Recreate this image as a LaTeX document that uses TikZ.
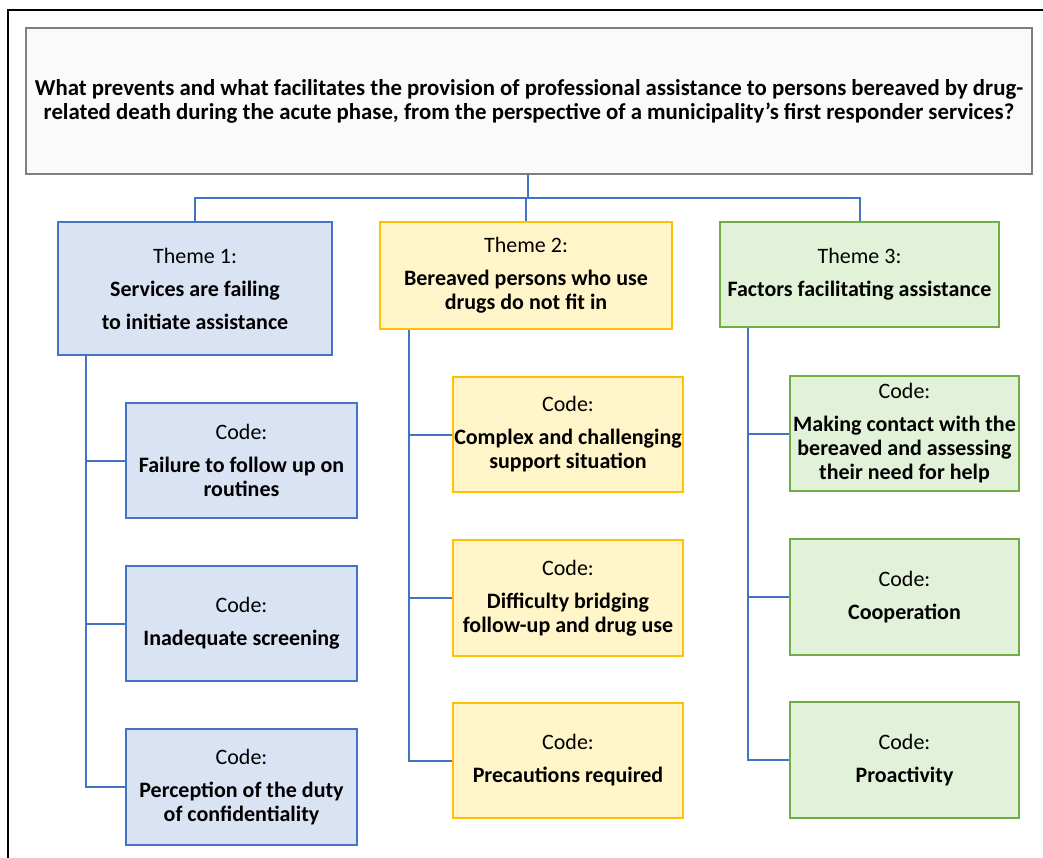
\documentclass[tikz,border=0pt]{standalone}
\usepackage{fontspec}
\setmainfont{Carlito}
\definecolor{bluefill}{HTML}{DAE3F3}
\definecolor{blueline}{HTML}{4472C4}
\definecolor{yelfill}{HTML}{FFF5C8}
\definecolor{yelline}{HTML}{FFC000}
\definecolor{grnfill}{HTML}{E2F2D9}
\definecolor{grnline}{HTML}{70AD47}
\definecolor{titfill}{HTML}{FAFAFA}
\definecolor{titline}{HTML}{7F7F7F}
\tikzset{
  every node/.style={font=\fontsize{22}{24}\selectfont, align=center, inner sep=0pt},
  bbox/.style={draw=blueline, fill=bluefill, line width=2pt},
  ybox/.style={draw=yelline, fill=yelfill, line width=2pt},
  gbox/.style={draw=grnline, fill=grnfill, line width=2pt},
  conn/.style={draw=blueline, line width=2pt},
}
\begin{document}
\begin{tikzpicture}[x=1pt,y=-1pt]
\useasboundingbox (0,0) rectangle (1043,858);
\draw[line width=2pt] (8,858) -- (8,10) -- (1043,10);
% title
\node[draw=titline, fill=titfill, line width=1.5pt, minimum width=1006pt, minimum height=146pt, font=\fontsize{22.8}{24}\selectfont] (title) at (529,101)
 {\textbf{What prevents and what facilitates the provision of professional assistance to persons bereaved by drug-}\\
  \textbf{related death during the acute phase, from the perspective of a municipality’s first responder services?}};
% themes
\node[bbox, minimum width=274pt, minimum height=133pt] (t1) at (195,288.5)
 {Theme 1:\\[9pt]\textbf{Services are failing}\\[9pt]\textbf{to initiate assistance}};
\node[ybox, minimum width=292pt, minimum height=107pt] (t2) at (526,275.5)
 {Theme 2:\\[9pt]\textbf{Bereaved persons who use}\\\textbf{drugs do not fit in}};
\node[gbox, minimum width=279pt, minimum height=105pt] (t3) at (859.5,274.5)
 {Theme 3:\\[9pt]\textbf{Factors facilitating assistance}};
% codes col 1
\node[bbox, minimum width=231pt, minimum height=115pt] (c11) at (241.5,460.5)
 {Code:\\[9pt]\textbf{Failure to follow up on}\\\textbf{routines}};
\node[bbox, minimum width=231pt, minimum height=115pt] (c12) at (241.5,623.5)
 {Code:\\[9pt]\textbf{Inadequate screening}};
\node[bbox, minimum width=231pt, minimum height=116pt] (c13) at (241.5,787)
 {Code:\\[9pt]\textbf{Perception of the duty}\\\textbf{of confidentiality}};
% codes col 2
\node[ybox, minimum width=230pt, minimum height=115pt] (c21) at (568,434.5)
 {Code:\\[9pt]\textbf{Complex and challenging}\\\textbf{support situation}};
\node[ybox, minimum width=230pt, minimum height=116pt] (c22) at (568,598)
 {Code:\\[9pt]\textbf{Difficulty bridging}\\\textbf{follow-up and drug use}};
\node[ybox, minimum width=230pt, minimum height=115pt] (c23) at (568,760.5)
 {Code:\\[9pt]\textbf{Precautions required}};
% codes col 3
\node[gbox, minimum width=229pt, minimum height=115pt] (c31) at (904.5,433.5)
 {Code:\\[9pt]\textbf{Making contact with the}\\\textbf{bereaved and assessing}\\\textbf{their need for help}};
\node[gbox, minimum width=229pt, minimum height=116pt] (c32) at (904.5,597)
 {Code:\\[9pt]\textbf{Cooperation}};
\node[gbox, minimum width=229pt, minimum height=116pt] (c33) at (904.5,760)
 {Code:\\[9pt]\textbf{Proactivity}};
% connectors
\coordinate (bus) at (528,198);
\draw[conn] (title.south -| bus) -- (bus);
\draw[conn] (t1.north) |- (bus) -| (t3.north);
\draw[conn] (t2.north) -- (t2.north |- bus);
\draw[conn] ([xshift=29pt]t1.south west) |- (c11.west);
\draw[conn] ([xshift=29pt]t1.south west) |- (c12.west);
\draw[conn] ([xshift=29pt]t1.south west) |- (c13.west);
\draw[conn] ([xshift=30pt]t2.south west) |- (c21.west);
\draw[conn] ([xshift=30pt]t2.south west) |- (c22.west);
\draw[conn] ([xshift=30pt]t2.south west) |- (c23.west);
\draw[conn] ([xshift=29pt]t3.south west) |- (c31.west);
\draw[conn] ([xshift=29pt]t3.south west) |- (c32.west);
\draw[conn] ([xshift=29pt]t3.south west) |- (c33.west);
\end{tikzpicture}
\end{document}
